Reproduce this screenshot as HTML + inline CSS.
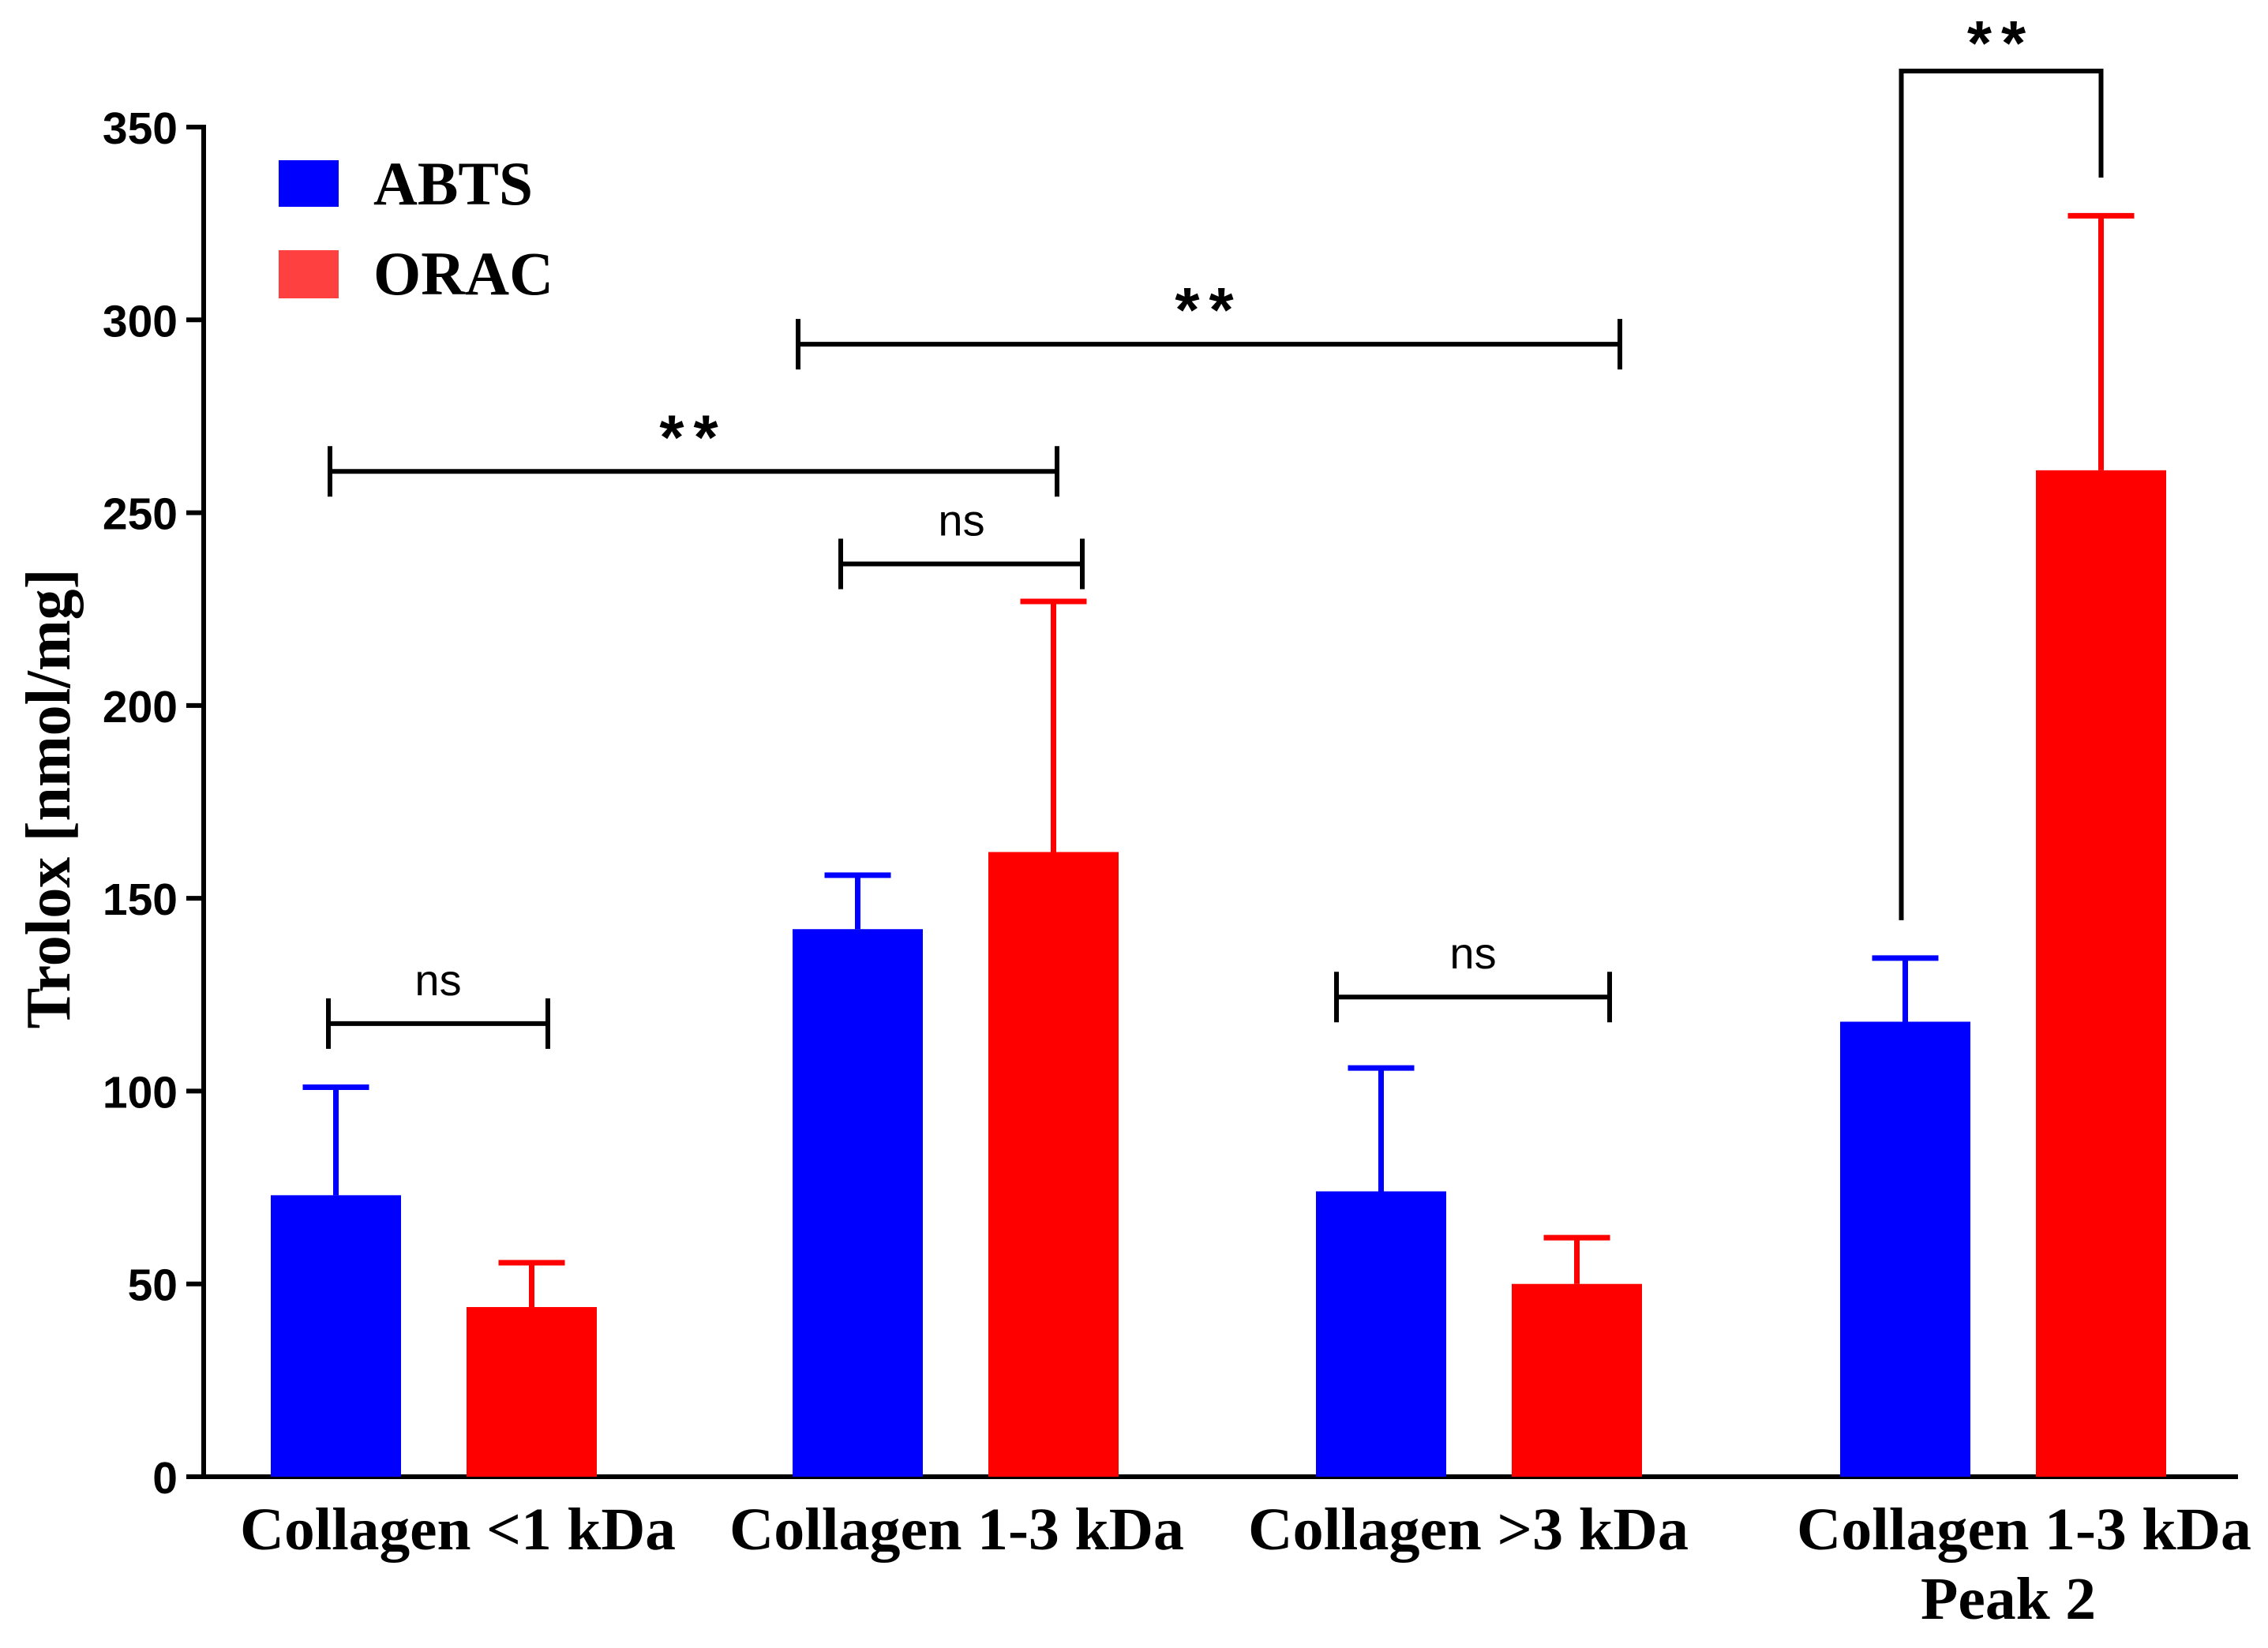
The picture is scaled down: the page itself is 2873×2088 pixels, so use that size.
<!DOCTYPE html>
<html><head><meta charset="utf-8"><style>
html,body{margin:0;padding:0;background:#fff;}
svg{display:block;}
</style></head><body>
<svg id="chart" width="2873" height="2088" viewBox="0 0 2873 2088" xmlns="http://www.w3.org/2000/svg">
<g id="axes"></g>
<g id="bars"></g>
<g id="sig"></g>
<g id="legend">
  <rect x="353" y="203" width="76" height="59" fill="#0000ff"/>
  <text x="473" y="259" font-family="Liberation Serif, serif" font-weight="bold" font-size="78" textLength="202" lengthAdjust="spacingAndGlyphs">ABTS</text>
  <rect x="353" y="317" width="76" height="61" fill="#ff4040"/>
  <text x="473" y="373" font-family="Liberation Serif, serif" font-weight="bold" font-size="78" textLength="228" lengthAdjust="spacingAndGlyphs">ORAC</text>
</g>
<text transform="translate(88,1012) rotate(-90)" text-anchor="middle" font-family="Liberation Serif, serif" font-weight="bold" font-size="80" textLength="583" lengthAdjust="spacingAndGlyphs">Trolox [nmol/mg]</text>
</svg>
<script>
const categories = ["Collagen <1 kDa", "Collagen 1-3 kDa", "Collagen >3 kDa", "Collagen 1-3 kDa|Peak 2"];
const abtsValues = [73, 142, 74, 118];
const abtsErrTop = [101, 156, 106, 134.5];
const oracValues = [44, 162, 50, 261];
const oracErrTop = [55.5, 227, 62, 327];
const yTicks = [0, 50, 100, 150, 200, 250, 300, 350];
const bracketValues = [117.5, 260.7, 236.7, 293.7, 124.4];
const bracketLabels = ["ns", "**", "ns", "**", "ns"];
const NS = "http://www.w3.org/2000/svg";
const y0 = 1871, pxPer = (1871 - 161) / 350;
function yScale(v){ return y0 - v * pxPer; }
const groupStart = [343, 1004, 1667, 2331];
const barW = 165, barGap = 248;
function barLeft(g, s){ return groupStart[g] + s * barGap; }
function barCenter(g, s){ return barLeft(g, s) + barW / 2; }
function mk(tag, attrs, parent){ const e = document.createElementNS(NS, tag); for (const k in attrs) e.setAttribute(k, attrs[k]); parent.appendChild(e); return e; }

const axes = document.getElementById('axes');
let e = mk('line', {x1:258, y1:158, x2:258, y2:y0+3, stroke:'#000', 'stroke-width':6}, axes);


e = mk('line', {x1:255, y1:y0, x2:2835, y2:y0, stroke:'#000', 'stroke-width':6}, axes);


yTicks.forEach(t => {
  const y = yScale(t);
  const tk = mk('line', {x1:236, y1:y, x2:258, y2:y, stroke:'#000', 'stroke-width':6}, axes);
  
  
  const tl = mk('text', {x:225, y:y+21, 'text-anchor':'end', 'font-family':'Liberation Sans, sans-serif', 'font-weight':'bold', 'font-size':57}, axes);
  tl.textContent = t;
  
  
});
const labelCenters = [580, 1212, 1860, 2564];
const labelWidths = [552, 576, 558, 576];
categories.forEach((c, i) => {
  const lines = c.split('|');
  lines.forEach((ln, j) => {
    const t = mk('text', {x:labelCenters[i], y:1963 + j*88, 'text-anchor':'middle', 'font-family':'Liberation Serif, serif', 'font-weight':'bold', 'font-size':76}, axes);
    if (j === 0) { t.setAttribute('textLength', labelWidths[i]); t.setAttribute('lengthAdjust', 'spacingAndGlyphs'); }
    else { t.setAttribute('textLength', 222); t.setAttribute('lengthAdjust', 'spacingAndGlyphs'); t.setAttribute('x', 2544); }
    t.textContent = ln;
    
    
  });
});

const bars = document.getElementById('bars');
function drawSeries(vals, errs, s, color, name){
  vals.forEach((v, g) => {
    const x = barLeft(g, s), cx = barCenter(g, s);
    const eb = mk('line', {x1:cx, y1:yScale(v), x2:cx, y2:yScale(errs[g]), stroke:color, 'stroke-width':7}, bars);
    
    
    const cap = mk('line', {x1:cx-42, y1:yScale(errs[g]), x2:cx+42, y2:yScale(errs[g]), stroke:color, 'stroke-width':7}, bars);
    
    
    const r = mk('rect', {x:x, y:yScale(v), width:barW, height:y0 - yScale(v), fill:color}, bars);
    
    
  });
}
drawSeries(abtsValues, abtsErrTop, 0, '#0000ff', 'abts');
drawSeries(oracValues, oracErrTop, 1, '#ff0000', 'orac');

const sig = document.getElementById('sig');
const bracketXs = [[416, 694], [418, 1339], [1065, 1371], [1011, 2052], [1693, 2039]];
bracketValues.forEach((v, i) => {
  const x1 = bracketXs[i][0], x2 = bracketXs[i][1];
  const y = yScale(v);
  const ln = mk('path', {d:`M${x1},${y-32}V${y+32}M${x1},${y}H${x2}M${x2},${y-32}V${y+32}`, stroke:'#000', 'stroke-width':6, fill:'none'}, sig);
  
  
  const isNs = bracketLabels[i] === 'ns';
  const t = mk('text', {x:(x1+x2)/2, y: isNs ? y-36 : y-16, 'text-anchor':'middle', 'font-family':'Liberation Sans, sans-serif', 'font-weight': isNs ? 'normal' : 'bold', 'font-size': isNs ? 56 : 80, 'letter-spacing': isNs ? 0 : 12}, sig);
  t.textContent = bracketLabels[i];
  
  
});
const pkL = barCenter(3, 0) - 5, pkR = barCenter(3, 1);
const pk = mk('path', {d:`M${pkL},${yScale(abtsErrTop[3]) - 48}V90H${pkR}V225`, stroke:'#000', 'stroke-width':6, fill:'none'}, sig);


const pkT = mk('text', {x:(pkL+pkR)/2, y:82, 'text-anchor':'middle', 'font-family':'Liberation Sans, sans-serif', 'font-weight':'bold', 'font-size':80, 'letter-spacing':12}, sig);
pkT.textContent = '**';


</script>
</body></html>
